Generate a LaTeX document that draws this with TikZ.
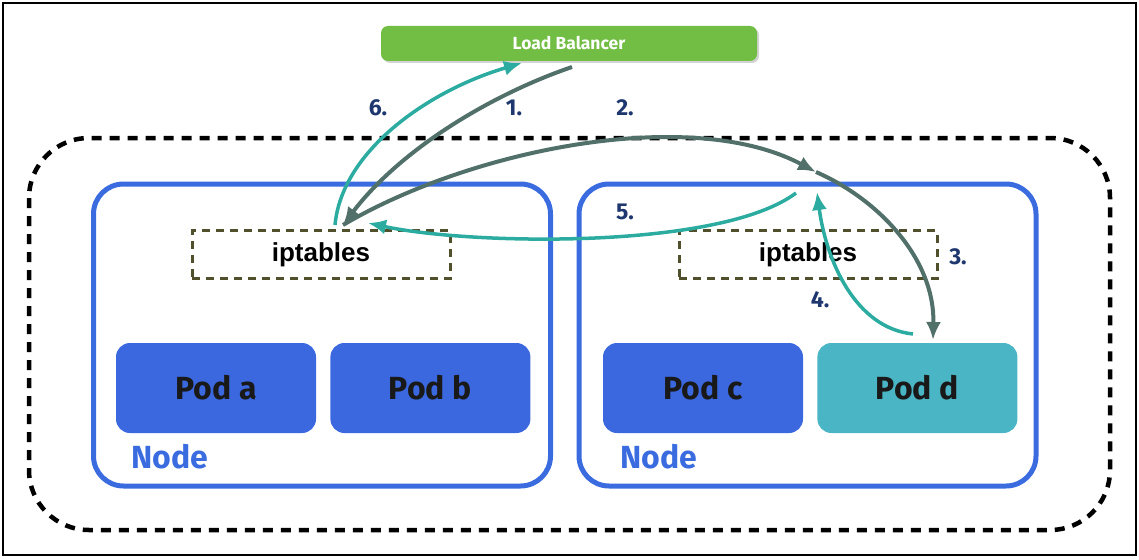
\documentclass[tikz,border=0pt]{standalone}
\usepackage{fontspec}
\setsansfont{Fira Sans}
\newfontfamily\ipfont{Liberation Sans}
\usepackage{tikz}
\usetikzlibrary{arrows.meta,positioning,shadows}
\definecolor{hostblue}{RGB}{58,108,224}
\definecolor{podblue}{RGB}{59,104,222}
\definecolor{podteal}{RGB}{74,181,196}
\definecolor{lbgreen}{RGB}{114,189,68}
\definecolor{flowdark}{RGB}{82,112,106}
\definecolor{flowteal}{RGB}{44,172,160}
\definecolor{stepnum}{RGB}{30,55,110}
\definecolor{ipolive}{RGB}{80,80,45}

\begin{document}
\begin{tikzpicture}[x=1pt,y=-1pt,font=\sffamily\bfseries,node distance=14pt,
hostbox/.style={draw=hostblue,line width=5pt,rounded corners=30pt,minimum width=457pt,minimum height=302pt},
hostlbl/.style={anchor=base west,text=hostblue,font=\sffamily\bfseries\fontsize{32}{32}\selectfont},
pod/.style={fill=podblue,rounded corners=14pt,minimum width=200pt,minimum height=90pt,text=black!90,font=\sffamily\bfseries\fontsize{32}{32}\selectfont},
ipt/.style={draw=ipolive,dash pattern=on 8pt off 6pt,line width=3pt,minimum width=258pt,minimum height=48pt,font=\ipfont\bfseries\fontsize{26}{26}\selectfont},
lbbox/.style={fill=lbgreen,rounded corners=7pt,minimum width=376pt,minimum height=35pt,text=white,font=\sffamily\bfseries\fontsize{17.5}{17.5}\selectfont,
  drop shadow={shadow xshift=2pt,shadow yshift=-2pt,opacity=0.35}},
num/.style={text=stepnum,font=\sffamily\bfseries\fontsize{23}{23}\selectfont},
darr/.style={-{Latex[length=18pt,width=15pt]},flowdark,line width=4pt},
tarr/.style={-{Latex[length=18pt,width=15pt]},flowteal,line width=3.5pt}]
\useasboundingbox (0,0) rectangle (1139,559);
\draw[line width=2.5pt] (3,3) rectangle (1136,555);
\draw[line width=4.5pt,dash pattern=on 10pt off 8pt,rounded corners=60pt] (29,138) rectangle (1110,530);
% load balancer
\node[lbbox] (lb) at (569,43.5) {Load Balancer};
% the two hosts
\node[hostbox] (hostL) at (322,335) {};
\node[hostbox] (hostR) at (807.5,335) {};
\node[hostlbl] (lblL) at (128,468) {Node};
\node[hostlbl] (lblR) at (617,468) {Node};
\node[ipt] (iptL) at (321,254.5) {iptables};
\node[ipt] (iptR) at (808,254.5) {iptables};
\node[pod] (podA) at (216,388) {Pod a};
\node[pod,right=of podA] (podB) {Pod b};
\node[pod] (podC) at (703,388) {Pod c};
\node[pod,fill=podteal,right=of podC] (podD) {Pod d};
% flow end points
\coordinate (lbout) at (572,67);
\coordinate (lbin) at (522,63);
\coordinate (iptLin) at (343,225);
\coordinate (iptLout) at (335,225);
\coordinate (iptLback) at (368,223);
\coordinate (hub) at (816,172);
\coordinate (hubin) at (817,192);
\coordinate (hubout) at (796,193);
\coordinate (podDin) at (933,340);
\coordinate (podDout) at (913,334);
\draw[darr] (lbout) .. controls (490,95) and (400,150) .. (iptLin);
\draw[darr] (iptLin) .. controls (470,150) and (690,105) .. (hub);
\draw[darr] (hub) .. controls (880,200) and (935,260) .. (podDin);
\draw[tarr] (podDout) .. controls (855,328) and (826,260) .. (hubin);
\draw[tarr] (hubout) .. controls (720,250) and (470,245) .. (iptLback);
\draw[tarr] (iptLout) .. controls (342,150) and (430,90) .. (lbin);
% step numbers
\node[num] (s1) at (514,108) {1.};
\node[num] (s2) at (625,108) {2.};
\node[num] (s3) at (958,257) {3.};
\node[num] (s4) at (820,300) {4.};
\node[num] (s5) at (625,212) {5.};
\node[num] (s6) at (378,108) {6.};
\end{tikzpicture}
\end{document}
